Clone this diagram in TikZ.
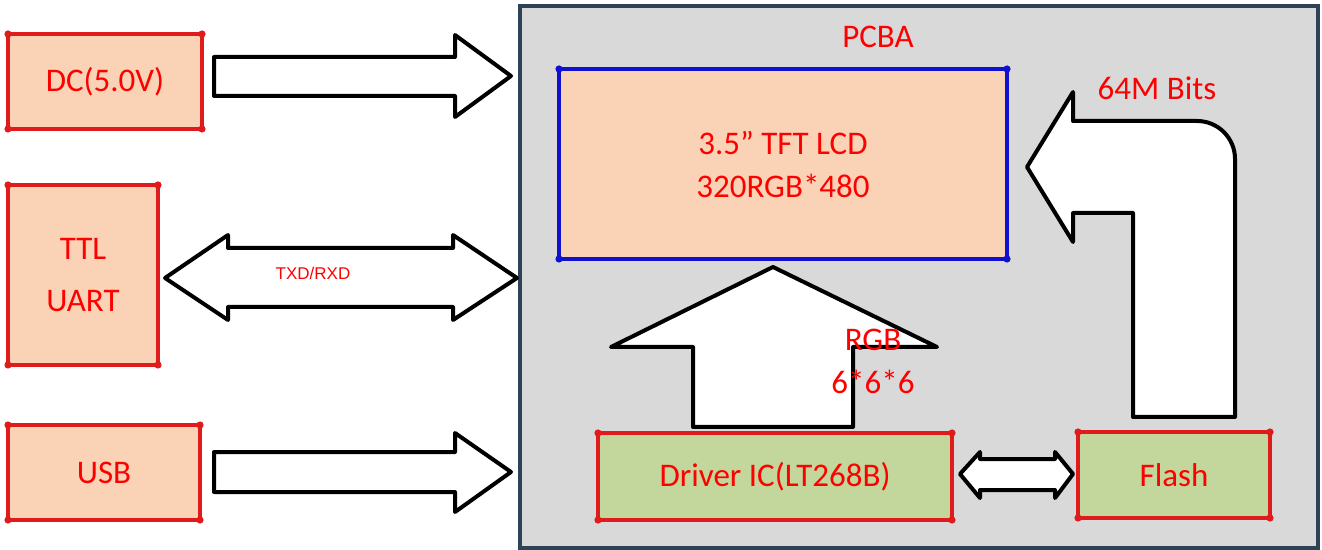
\documentclass[tikz,border=0pt]{standalone}
\usepackage{fontspec}
\setmainfont{Carlito}
\newfontfamily\arialfont{Liberation Sans}
\usetikzlibrary{calc}

\definecolor{boxred}{HTML}{E01B1B}
\definecolor{peach}{HTML}{FAD2B6}
\definecolor{leaf}{HTML}{C3D69B}
\definecolor{pcbgray}{HTML}{D9D9D9}
\definecolor{pcbedge}{HTML}{2E4257}
\definecolor{lcdblue}{HTML}{1010D0}

\begin{document}
\begin{tikzpicture}[x=0.5pt, y=-0.5pt,
    redbox/.style={draw=boxred, line width=2pt, inner sep=0pt, outer sep=0pt, text=red, align=center, font=\fontsize{16.5}{26}\selectfont},
    inbox/.style={redbox, fill=peach},
    chipbox/.style={redbox, fill=leaf},
    blockarr/.style={draw=black, fill=white, line width=2pt, line join=round},
    lbl/.style={text=red, font=\fontsize{16.5}{21}\selectfont}
]
\useasboundingbox (0,0) rectangle (1322,550);

% board
\node[draw=pcbedge, line width=1.8pt, fill=pcbgray, minimum width=399pt, minimum height=271pt, inner sep=0pt] (pcba) at (919,277) {};
\node[lbl] (pcbalabel) at (878,37) {PCBA};

% outside inputs
\node[inbox, minimum width=97pt, minimum height=47.5pt] (dc) at (105,81.5) {DC(5.0V)};
\node[inbox, minimum width=75pt, minimum height=90pt] (ttl) at (83,275) {TTL\\UART};
\node[inbox, minimum width=96pt, minimum height=47.5pt] (usb) at (104,472.5) {USB};

% parts on the board
\node[draw=lcdblue, line width=2pt, fill=peach, minimum width=224pt, minimum height=95pt, inner sep=0pt, outer sep=0pt,
      text=red, align=center, font=\fontsize{16.5}{21.5}\selectfont] (lcd) at (783,164) {3.5” TFT LCD\\320RGB*480};
\node[chipbox, minimum width=177pt, minimum height=43.5pt] (drv) at (775,476.5) {Driver IC(LT268B)};
\node[chipbox, minimum width=96pt, minimum height=43pt] (flash) at (1174,475) {Flash};

% corner dots
\foreach \n in {dc,ttl,usb,drv,flash}
  \foreach \c in {north west,north east,south west,south east}
    \fill[boxred] (\n.\c) circle (1.8pt);
\foreach \c in {north west,north east,south west,south east}
  \fill[lcdblue] (lcd.\c) circle (1.8pt);

% block arrows
\draw[blockarr] (214,57) -- (455,57) -- (455,35) -- (511,76) -- (455,117) -- (455,96) -- (214,96) -- cycle;
\draw[blockarr] (214,452) -- (455,452) -- (455,433) -- (511,472) -- (455,512) -- (455,492) -- (214,492) -- cycle;
\draw[blockarr] (165,278) -- (228,235) -- (228,248) -- (453,248) -- (453,235) -- (517,278)
  -- (453,320) -- (453,307) -- (228,307) -- (228,320) -- cycle;
\node[text=red, font=\arialfont\fontsize{8.5}{10}\selectfont] (txd) at (313,273) {TXD/RXD};

\draw[blockarr] (693,427) -- (693,347) -- (611,347) -- (773,267) -- (937,347) -- (853,347) -- (853,427) -- cycle;
\node[lbl] (rgb) at (873,340) {RGB};
\node[lbl] (bits) at (873,382) {6*6*6};

\draw[blockarr] (960,474) -- (980,452) -- (980,459) -- (1055,459) -- (1055,452) -- (1073,474)
  -- (1055,498) -- (1055,490) -- (980,490) -- (980,498) -- cycle;

\draw[blockarr] (1133,417) -- (1133,213) -- (1073,213) -- (1073,242) -- (1027,167) -- (1073,92) -- (1073,121)
  -- (1197,121) .. controls (1218,121) and (1235,138) .. (1235,159) -- (1235,417) -- cycle;
\node[lbl] (mem) at (1157,88) {64M Bits};
\end{tikzpicture}
\end{document}
